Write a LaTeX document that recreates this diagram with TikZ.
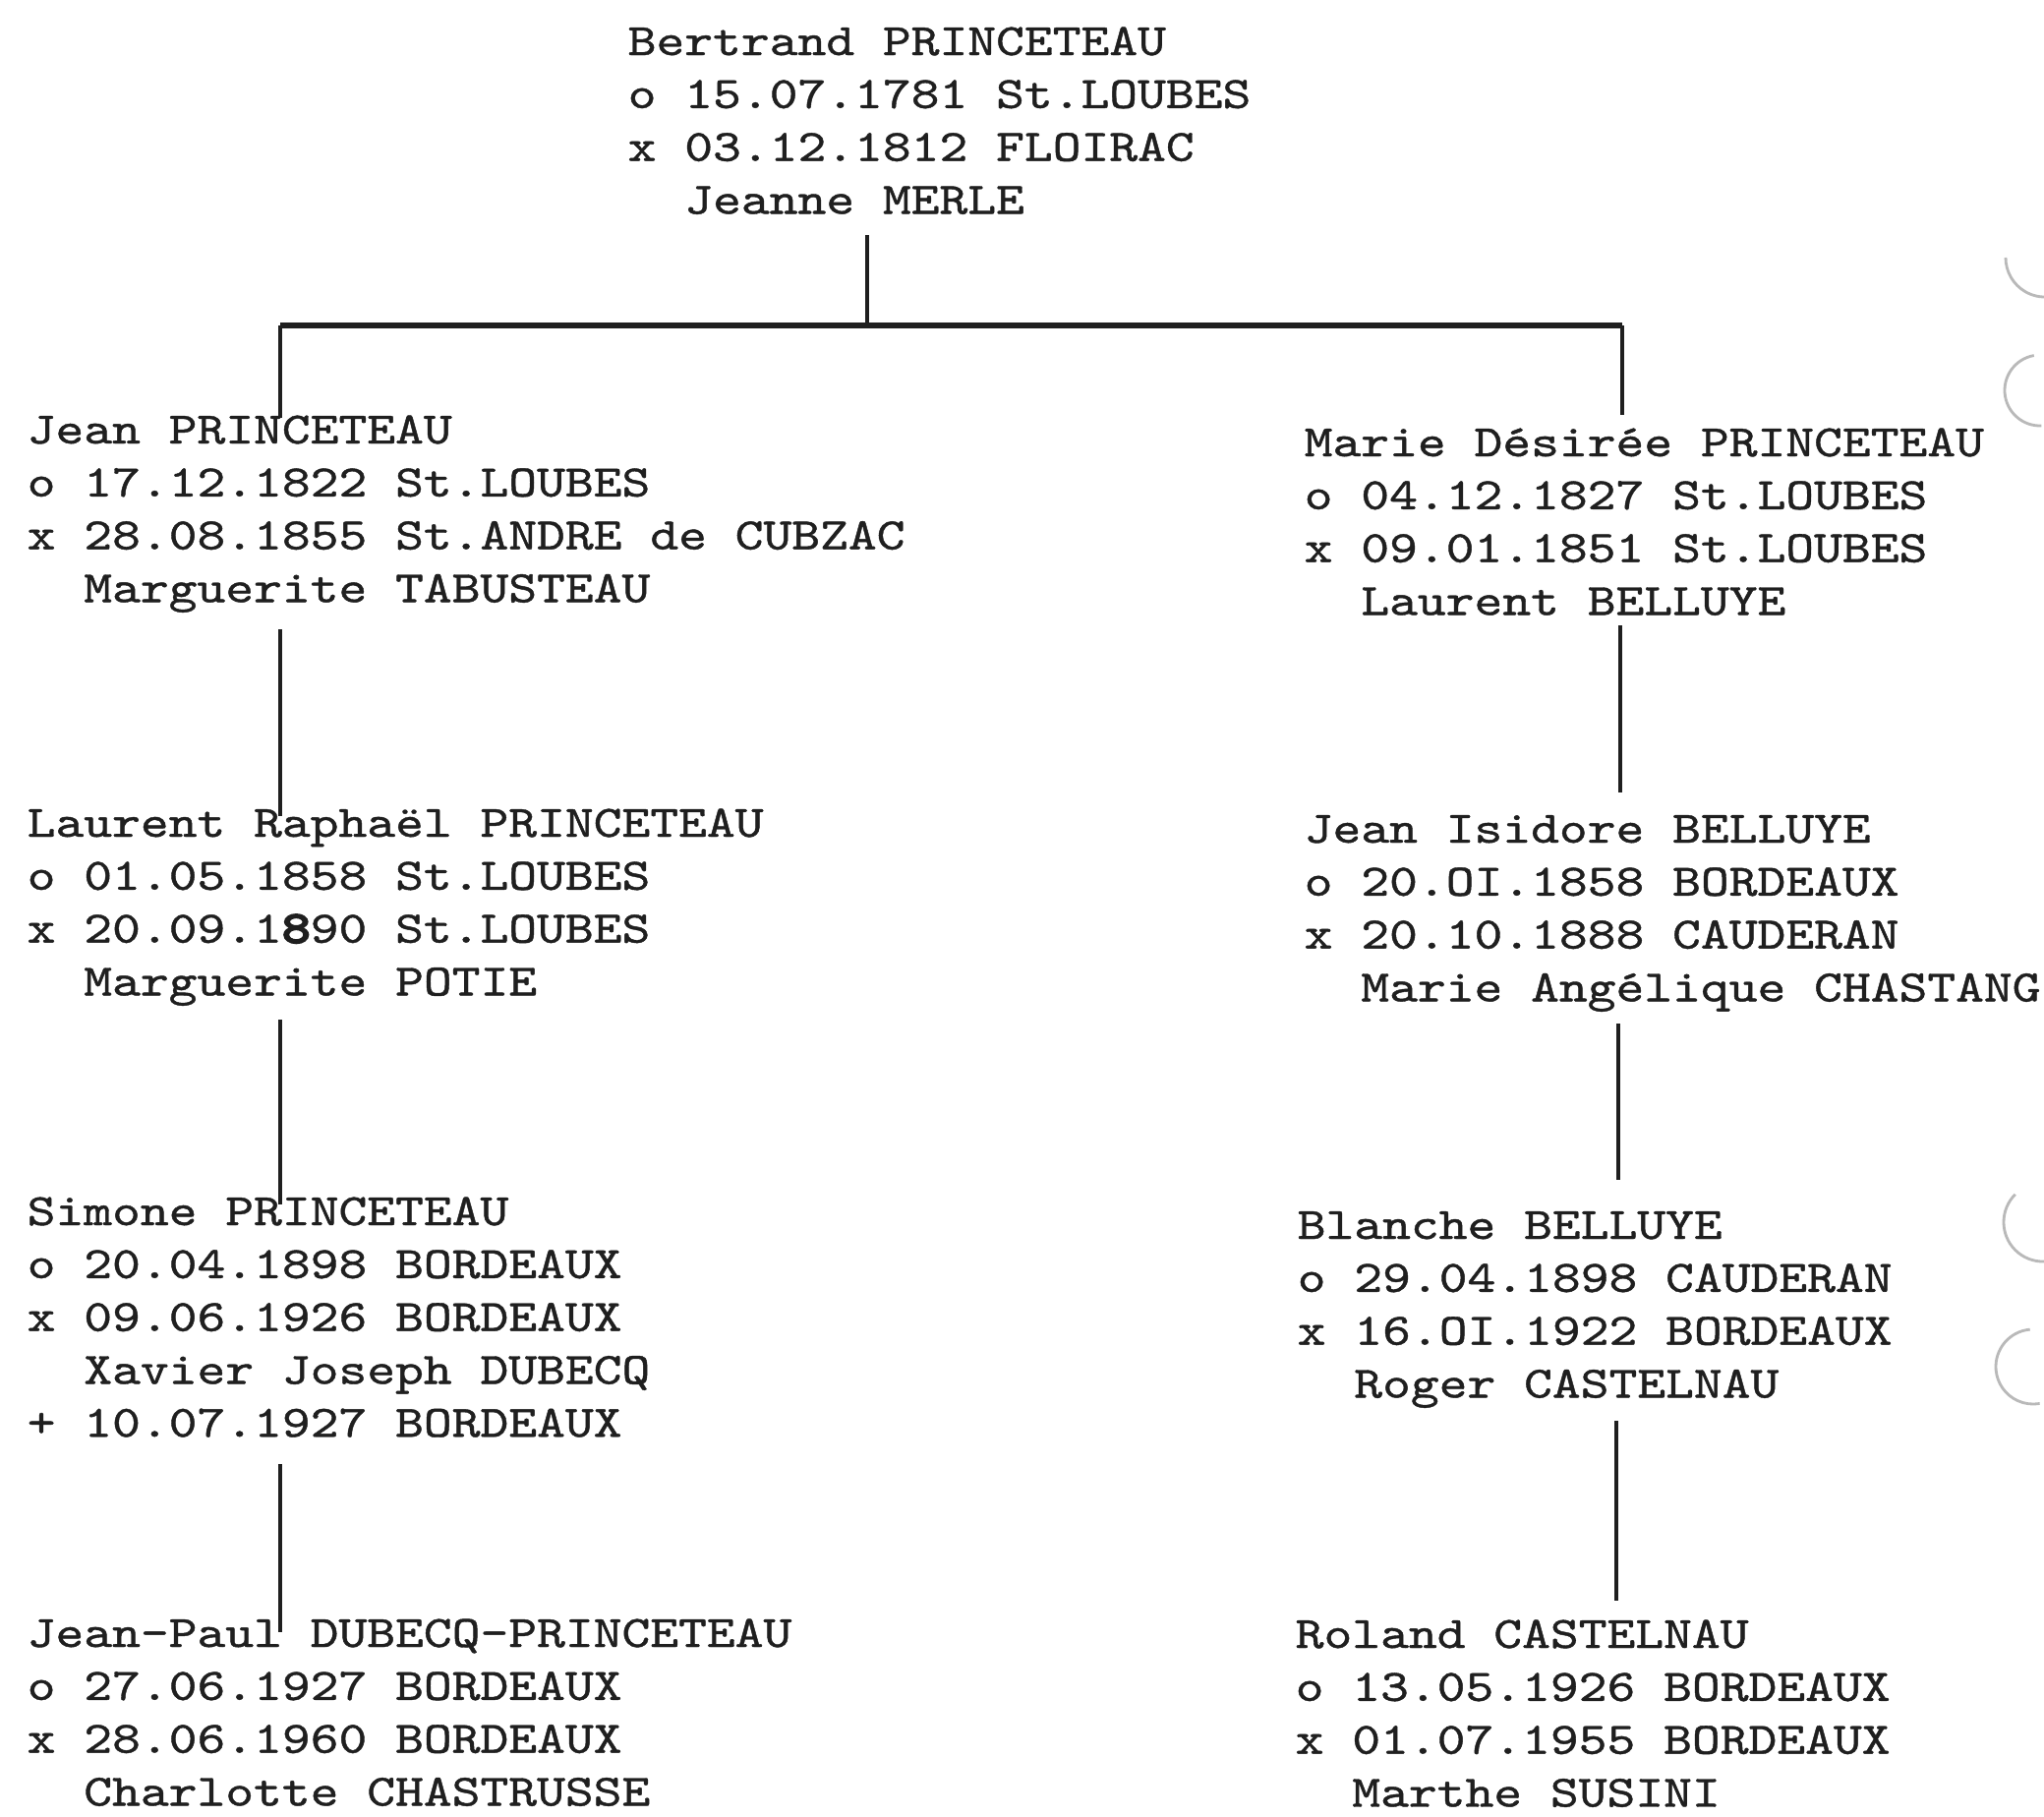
\documentclass[tikz,border=0pt]{standalone}
\usepackage{fontspec}
\newfontfamily\tw{lmmono10-regular.otf}[FakeStretch=1.2,FakeBold=0.9]
\newfontfamily\twb{lmmono10-regular.otf}[FakeStretch=1.2,FakeBold=5]
\newcommand\gblock[1]{\vtop{\baselineskip=15.3pt\relax\halign{##\hfil\cr#1\crcr}}}
\newcommand\ind{\hphantom{xx}}
\begin{document}
\begin{tikzpicture}[x=0.01cm,y=-0.01cm,
  person/.style={anchor=base west, inner sep=0pt, font=\tw\fontsize{13}{15.3}\selectfont, text=black!88},
  link/.style={line width=0.9pt, draw=black!88},
  bar/.style={line width=1.5pt, draw=black!88},
  hole/.style={draw=gray!55, line width=0.8pt}]
\useasboundingbox[fill=white] (0,0) rectangle (2079,1847);

\node[person] (top) at (638,56) {\gblock{Bertrand PRINCETEAU\cr o 15.07.1781 St.LOUBES\cr x 03.12.1812 FLOIRAC\cr \ind Jeanne MERLE}};

\node[person] (L1) at (27,451) {\gblock{Jean PRINCETEAU\cr o 17.12.1822 St.LOUBES\cr x 28.08.1855 St.ANDRE de CUBZAC\cr \ind Marguerite TABUSTEAU}};
\node[person] (L2) at (27,851) {\gblock{Laurent Raphaël PRINCETEAU\cr o 01.05.1858 St.LOUBES\cr x 20.09.1{\twb\fontsize{13}{15.3}\selectfont 8}90 St.LOUBES\cr \ind Marguerite POTIE}};
\node[person] (L3) at (27,1246) {\gblock{Simone PRINCETEAU\cr o 20.04.1898 BORDEAUX\cr x 09.06.1926 BORDEAUX\cr \ind Xavier Joseph DUBECQ\cr + 10.07.1927 BORDEAUX}};
\node[person] (L4) at (27,1675) {\gblock{Jean-Paul DUBECQ-PRINCETEAU\cr o 27.06.1927 BORDEAUX\cr x 28.06.1960 BORDEAUX\cr \ind Charlotte CHASTRUSSE}};

\node[person] (R1) at (1326,464) {\gblock{Marie Désirée PRINCETEAU\cr o 04.12.1827 St.LOUBES\cr x 09.01.1851 St.LOUBES\cr \ind Laurent BELLUYE}};
\node[person] (R2) at (1326,857) {\gblock{Jean Isidore BELLUYE\cr o 20.OI.1858 BORDEAUX\cr x 20.10.1888 CAUDERAN\cr \ind Marie Angélique CHASTANG}};
\node[person] (R3) at (1319,1260) {\gblock{Blanche BELLUYE\cr o 29.04.1898 CAUDERAN\cr x 16.OI.1922 BORDEAUX\cr \ind Roger CASTELNAU}};
\node[person] (R4) at (1317,1676) {\gblock{Roland CASTELNAU\cr o 13.05.1926 BORDEAUX\cr x 01.07.1955 BORDEAUX\cr \ind Marthe SUSINI}};

\coordinate (topA) at (882,239);
\coordinate (barM) at (882,331);
\coordinate (barL) at (285,331);
\coordinate (barR) at (1650,331);
\coordinate (L1t) at (285,425);
\coordinate (R1t) at (1650,422);
\coordinate (L1b) at (285,640);
\coordinate (L2t) at (285,830);
\coordinate (L2b) at (285,1037);
\coordinate (L3t) at (285,1225);
\coordinate (L3b) at (285,1489);
\coordinate (L4t) at (285,1660);
\coordinate (R1b) at (1648,636);
\coordinate (R2t) at (1648,806);
\coordinate (R2b) at (1646,1041);
\coordinate (R3t) at (1646,1200);
\coordinate (R3b) at (1644,1445);
\coordinate (R4t) at (1644,1628);

\draw[bar] (barL) -- (barR);
\draw[link] (topA) -- (barM);
\draw[link] (barL) -- (L1t);
\draw[link] (barR) -- (R1t);
\draw[link] (L1b) -- (L2t);
\draw[link] (L2b) -- (L3t);
\draw[link] (L3b) -- (L4t);
\draw[link] (R1b) -- (R2t);
\draw[link] (R2b) -- (R3t);
\draw[link] (R3b) -- (R4t);

\draw[hole] ([shift={(180:0.4cm)}]2080,262) arc[start angle=180,end angle=275,radius=0.4cm];
\draw[hole] ([shift={(100:0.36cm)}]2075,397) arc[start angle=100,end angle=272,radius=0.36cm];
\draw[hole] ([shift={(135:0.4cm)}]2078,1243) arc[start angle=135,end angle=272,radius=0.4cm];
\draw[hole] ([shift={(95:0.38cm)}]2068,1390) arc[start angle=95,end angle=280,radius=0.38cm];
\end{tikzpicture}
\end{document}
